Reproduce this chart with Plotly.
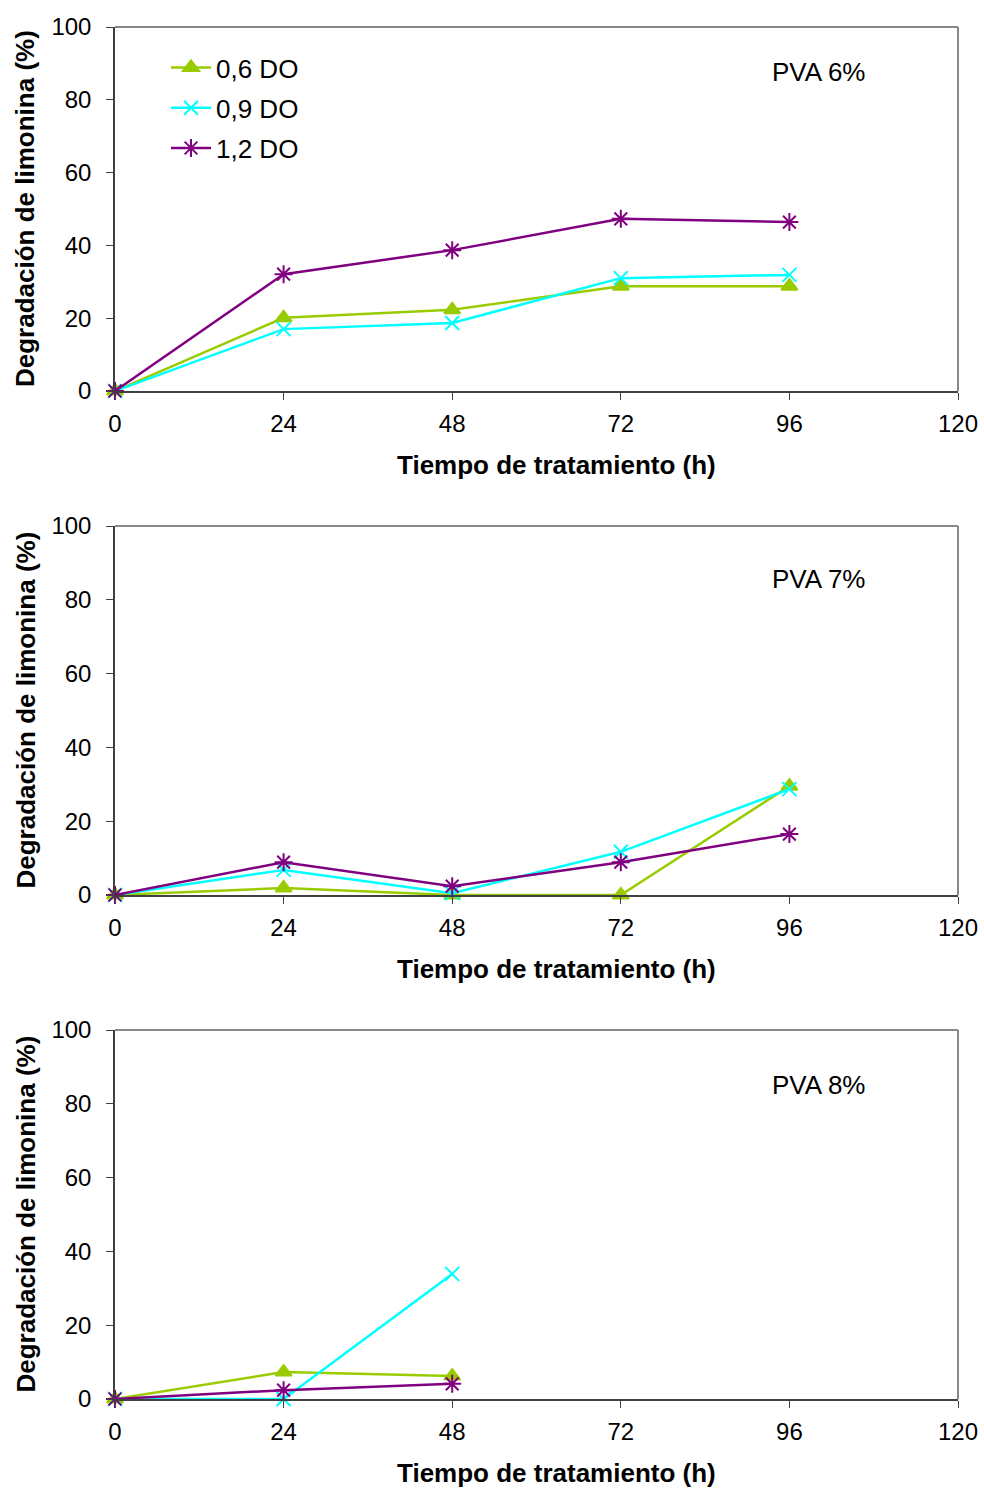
import plotly.graph_objects as go

# Sampling times (h)
tiempo = [0, 24, 48, 72, 96]
tiempo_8 = [0, 24, 48]

# Limonin degradation (%) per PVA concentration and optical density
pva6_06 = [0, 20.1, 22.3, 28.8, 28.8]
pva6_09 = [0, 17.0, 18.7, 31.0, 31.9]
pva6_12 = [0, 32.1, 38.7, 47.3, 46.4]

pva7_06 = [0, 1.9, 0, 0, 29.5]
pva7_09 = [0, 6.8, 0.5, 11.7, 28.7]
pva7_12 = [0, 8.9, 2.4, 8.9, 16.5]

pva8_06 = [0, 7.3, 6.2]
pva8_09 = [0, 0, 33.9]
pva8_12 = [0, 2.4, 4.1]

panel_labels = ["PVA 6%", "PVA 7%", "PVA 8%"]
series_names = ["0,6 DO", "0,9 DO", "1,2 DO"]
x_ticks = [0, 24, 48, 72, 96, 120]
y_ticks = [0, 20, 40, 60, 80, 100]

colors = ["#99CC00", "#00FFFF", "#800080"]
symbols = ["triangle-up", "x-thin-open", "asterisk-open"]
sizes = [14, 14, 15]

W, H = 984, 1488
FONT = "Liberation Sans, Arial, sans-serif"

# Plot-area pixel boxes (top, bottom) for each panel, and label offsets
x_left, x_right = 115, 958
panels_px = [(27, 391), (526, 895), (1030, 1399)]
label_offsets = [45, 53, 55]

panel_data = [
    (tiempo, [pva6_06, pva6_09, pva6_12]),
    (tiempo, [pva7_06, pva7_09, pva7_12]),
    (tiempo_8, [pva8_06, pva8_09, pva8_12]),
]

fig = go.Figure()
layout = dict(
    width=W, height=H,
    margin=dict(l=0, r=0, t=0, b=0, autoexpand=False),
    paper_bgcolor="white", plot_bgcolor="white",
    font=dict(family=FONT, size=24, color="black"),
    showlegend=True,
    legend=dict(
        x=166 / W, y=1 - 44 / H, xanchor="left", yanchor="top",
        bgcolor="rgba(0,0,0,0)", font=dict(size=26, family=FONT),
        traceorder="grouped", tracegroupgap=3.5, itemwidth=40,
    ),
)

shapes = []
annotations = []
for i, ((top, bot), (xs, series)) in enumerate(zip(panels_px, panel_data)):
    ax = "" if i == 0 else str(i + 1)
    xdom = [x_left / W, x_right / W]
    ydom = [1 - bot / H, 1 - top / H]
    for j, ys in enumerate(series):
        fig.add_trace(go.Scatter(
            x=xs, y=ys, mode="lines+markers", name=series_names[j],
            legendgroup=series_names[j],
            xaxis="x" + ax, yaxis="y" + ax,
            line=dict(color=colors[j], width=2.5),
            marker=dict(symbol=symbols[j], size=sizes[j], color=colors[j],
                        line=dict(color=colors[j], width=2)),
            showlegend=(i == 0), cliponaxis=False,
        ))
    layout["xaxis" + ax] = dict(
        domain=xdom, anchor="y" + ax, range=[0, 120], automargin=False,
        tickvals=x_ticks, ticks="outside", ticklen=7, tickcolor="#404040",
        ticklabelstandoff=3,
        showline=True, linecolor="#404040", linewidth=1.5,
        showgrid=False, zeroline=False,
        tickfont=dict(size=24, family=FONT),
    )
    layout["yaxis" + ax] = dict(
        domain=ydom, anchor="x" + ax, range=[0, 100], automargin=False,
        tickvals=y_ticks, ticks="outside", ticklen=7, tickcolor="#404040",
        ticklabelstandoff=10,
        showline=True, linecolor="#404040", linewidth=1.5,
        showgrid=False, zeroline=False,
        tickfont=dict(size=24, family=FONT),
    )
    # light grey frame on top and right edges
    shapes.append(dict(type="line", xref="paper", yref="paper",
                       x0=xdom[0], x1=xdom[1], y0=ydom[1], y1=ydom[1],
                       line=dict(color="#888888", width=2)))
    shapes.append(dict(type="line", xref="paper", yref="paper",
                       x0=xdom[1], x1=xdom[1], y0=ydom[0], y1=ydom[1],
                       line=dict(color="#888888", width=2)))
    # panel label
    annotations.append(dict(
        text=panel_labels[i], xref="paper", yref="paper",
        x=818 / W, y=1 - (top + label_offsets[i]) / H,
        xanchor="center", yanchor="middle",
        showarrow=False, font=dict(size=26, family=FONT)))
    # axis titles
    annotations.append(dict(
        text="<b>Tiempo de tratamiento (h)</b>", xref="paper", yref="paper",
        x=556 / W, y=1 - (bot + 74) / H, xanchor="center", yanchor="middle",
        showarrow=False, font=dict(size=26, family=FONT)))
    annotations.append(dict(
        text="<b>Degradación de limonina (%)</b>", xref="paper", yref="paper",
        x=25 / W, y=1 - ((top + bot) / 2) / H, xanchor="center", yanchor="middle",
        textangle=-90, showarrow=False, font=dict(size=26, family=FONT)))

layout["shapes"] = shapes
layout["annotations"] = annotations
fig.update_layout(**layout)
fig.write_html("out.html")
